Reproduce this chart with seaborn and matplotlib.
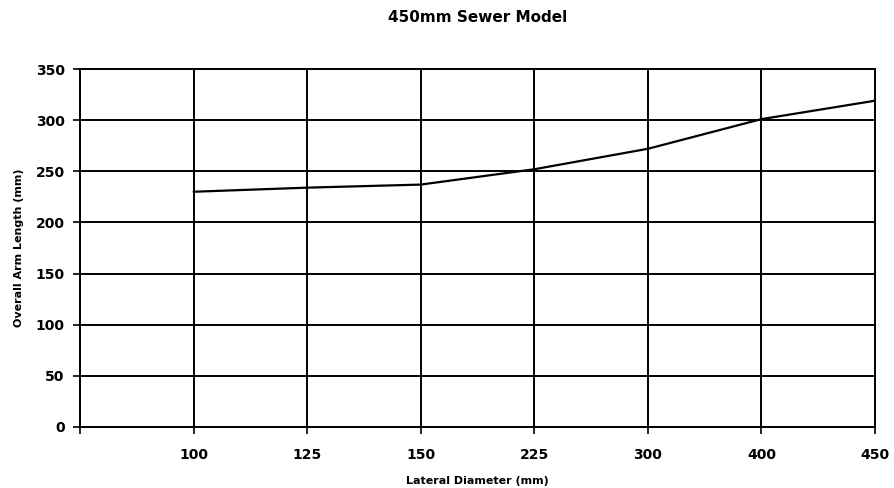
import numpy as np
import pandas as pd
import matplotlib
matplotlib.use('Agg')
import matplotlib.pyplot as plt
import seaborn as sns

# Lateral diameters (first slot is empty on the original chart)
categories = ['', '100', '125', '150', '225', '300', '400', '450']
diameters = ['100', '125', '150', '225', '300', '400', '450']
arm_length = [230, 234, 237, 252, 272, 301, 319]

pos = {c: i for i, c in enumerate(categories)}
df = pd.DataFrame({'x': [pos[d] for d in diameters], 'arm': arm_length})

sns.set_style('white')
plt.rcParams['font.family'] = ['DejaVu Sans']
plt.rcParams['text.color'] = 'black'
plt.rcParams['axes.labelcolor'] = 'black'
plt.rcParams['xtick.color'] = 'black'
plt.rcParams['ytick.color'] = 'black'

fig = plt.figure(figsize=(8.95, 4.88), dpi=100)
ax = fig.add_axes([0.0894, 0.125, 0.8883, 0.7336])

sns.lineplot(data=df, x='x', y='arm', color='black', linewidth=1.6, ax=ax)

ax.set_xlim(0, len(categories) - 1)
ax.set_ylim(0, 350)
ax.set_xticks(range(len(categories)))
ax.set_xticklabels(categories, fontsize=10, fontweight='heavy')
ax.set_yticks(range(0, 351, 50))
ax.set_yticklabels([str(v) for v in range(0, 351, 50)], fontsize=10, fontweight='heavy')
ax.grid(True, color='black', linewidth=1.4)
ax.set_axisbelow(True)
for s in ax.spines.values():
    s.set_color('black')
    s.set_linewidth(1.4)
ax.tick_params(axis='both', bottom=True, left=True, direction='out',
               length=5, width=1.2, colors='black', pad=6)
ax.tick_params(axis='x', pad=10)

ax.set_xlabel('Lateral Diameter (mm)', fontsize=8, fontweight='heavy', labelpad=10)
ax.set_ylabel('Overall Arm Length (mm)', fontsize=8, fontweight='heavy', labelpad=8)
ax.set_title('450mm Sewer Model', fontsize=11, fontweight='heavy', pad=34)

fig.savefig('out.png', dpi=100, facecolor='white')
